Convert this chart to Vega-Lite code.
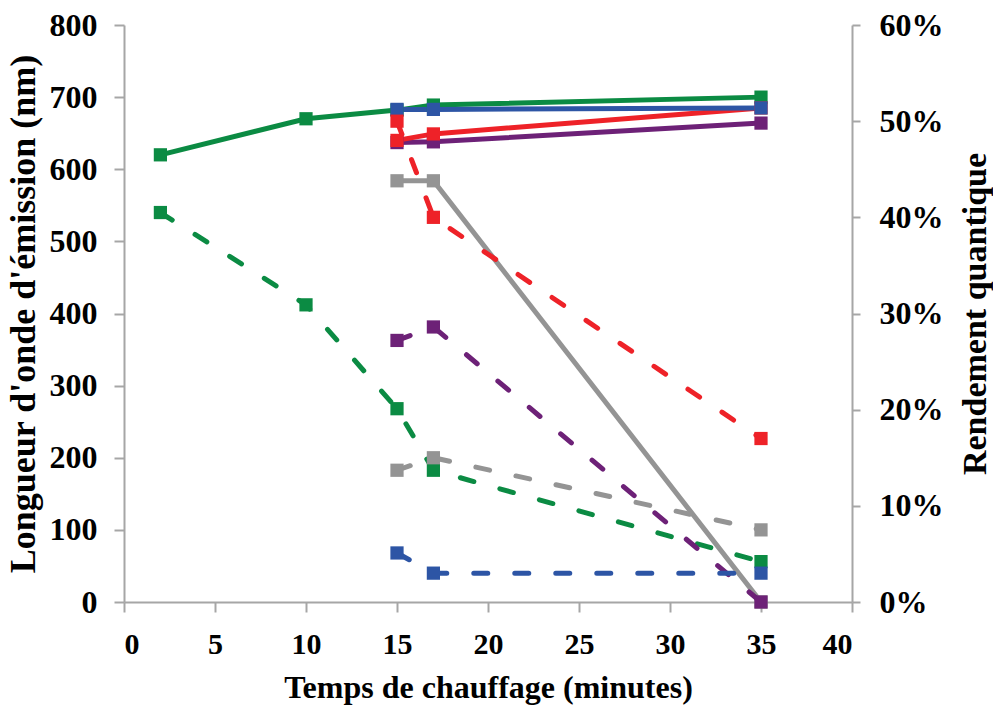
{
  "$schema": "https://vega.github.io/schema/vega-lite/v6.json",
  "width": 728,
  "height": 577,
  "autosize": {"type": "none"},
  "padding": {"left": 124, "top": 25, "right": 141, "bottom": 105},
  "background": "white",
  "config": {
    "view": {"stroke": null},
    "axis": {
      "labelFont": "Liberation Serif",
      "labelFontWeight": "bold",
      "labelFontSize": 30,
      "labelColor": "black",
      "titleFont": "Liberation Serif",
      "titleFontWeight": "bold",
      "titleColor": "black",
      "domainColor": "#A6A6A6",
      "domainWidth": 2,
      "tickColor": "#A6A6A6",
      "tickWidth": 2,
      "grid": false
    }
  },
  "datasets": {
    "wavelength": [
      {"t": 2, "serie": "vert", "nm": 620},
      {"t": 10, "serie": "vert", "nm": 670},
      {"t": 15, "serie": "vert", "nm": 682},
      {"t": 17, "serie": "vert", "nm": 689},
      {"t": 35, "serie": "vert", "nm": 700},
      {"t": 15, "serie": "violet", "nm": 637},
      {"t": 17, "serie": "violet", "nm": 638},
      {"t": 35, "serie": "violet", "nm": 664},
      {"t": 15, "serie": "rouge", "nm": 640},
      {"t": 17, "serie": "rouge", "nm": 649},
      {"t": 35, "serie": "rouge", "nm": 685},
      {"t": 15, "serie": "bleu", "nm": 683},
      {"t": 17, "serie": "bleu", "nm": 683},
      {"t": 35, "serie": "bleu", "nm": 685},
      {"t": 15, "serie": "gris", "nm": 584},
      {"t": 17, "serie": "gris", "nm": 584},
      {"t": 35, "serie": "gris", "nm": 0}
    ],
    "rendement": [
      {"t": 2, "serie": "vert", "qy": 0.405},
      {"t": 10, "serie": "vert", "qy": 0.309},
      {"t": 15, "serie": "vert", "qy": 0.201},
      {"t": 17, "serie": "vert", "qy": 0.137},
      {"t": 35, "serie": "vert", "qy": 0.042},
      {"t": 15, "serie": "violet", "qy": 0.272},
      {"t": 17, "serie": "violet", "qy": 0.286},
      {"t": 35, "serie": "violet", "qy": 0.0},
      {"t": 15, "serie": "rouge", "qy": 0.50},
      {"t": 17, "serie": "rouge", "qy": 0.40},
      {"t": 35, "serie": "rouge", "qy": 0.17},
      {"t": 15, "serie": "bleu", "qy": 0.051},
      {"t": 17, "serie": "bleu", "qy": 0.030},
      {"t": 35, "serie": "bleu", "qy": 0.030},
      {"t": 15, "serie": "gris", "qy": 0.137},
      {"t": 17, "serie": "gris", "qy": 0.150},
      {"t": 35, "serie": "gris", "qy": 0.075}
    ]
  },
  "encoding": {
    "x": {
      "field": "t",
      "type": "quantitative",
      "scale": {"domain": [0, 40], "nice": false},
      "axis": {
        "values": [0, 5, 10, 15, 20, 25, 30, 35, 40],
        "title": "Temps de chauffage (minutes)",
        "titleFontSize": 32,
        "tickSize": 10,
        "labelPadding": 17,
        "titlePadding": 13
      }
    },
    "color": {
      "field": "serie",
      "type": "nominal",
      "scale": {
        "domain": ["vert", "violet", "rouge", "bleu", "gris"],
        "range": ["#0B8B43", "#6D2177", "#EE2228", "#2D55A5", "#949494"]
      },
      "legend": null
    }
  },
  "layer": [
    {
      "data": {"name": "wavelength"},
      "mark": {
        "type": "line",
        "strokeWidth": 5,
        "point": {"filled": true, "shape": "square", "size": 175, "opacity": 1}
      },
      "encoding": {
        "y": {
          "field": "nm",
          "type": "quantitative",
          "scale": {"domain": [0, 800], "nice": false},
          "axis": {
            "orient": "left",
            "values": [0, 100, 200, 300, 400, 500, 600, 700, 800],
            "title": "Longueur d'onde d'émission (nm)",
            "titleFontSize": 36,
            "labelFontSize": 32,
            "tickSize": 10,
            "labelPadding": 17,
            "titlePadding": 7
          }
        }
      }
    },
    {
      "data": {"name": "rendement"},
      "mark": {
        "type": "line",
        "strokeWidth": 5,
        "strokeCap": "round",
        "strokeDash": [14, 27],
        "point": {"filled": true, "shape": "square", "size": 175, "opacity": 1}
      },
      "encoding": {
        "y": {
          "field": "qy",
          "type": "quantitative",
          "scale": {"domain": [0, 0.6], "nice": false},
          "axis": {
            "orient": "right",
            "values": [0, 0.1, 0.2, 0.3, 0.4, 0.5, 0.6],
            "format": ".0%",
            "title": "Rendement quantique",
            "titleAngle": 270,
            "titleFontSize": 34,
            "labelFontSize": 32,
            "tickSize": 8,
            "labelPadding": 19,
            "titlePadding": 49
          }
        }
      }
    }
  ],
  "resolve": {"scale": {"y": "independent"}}
}
